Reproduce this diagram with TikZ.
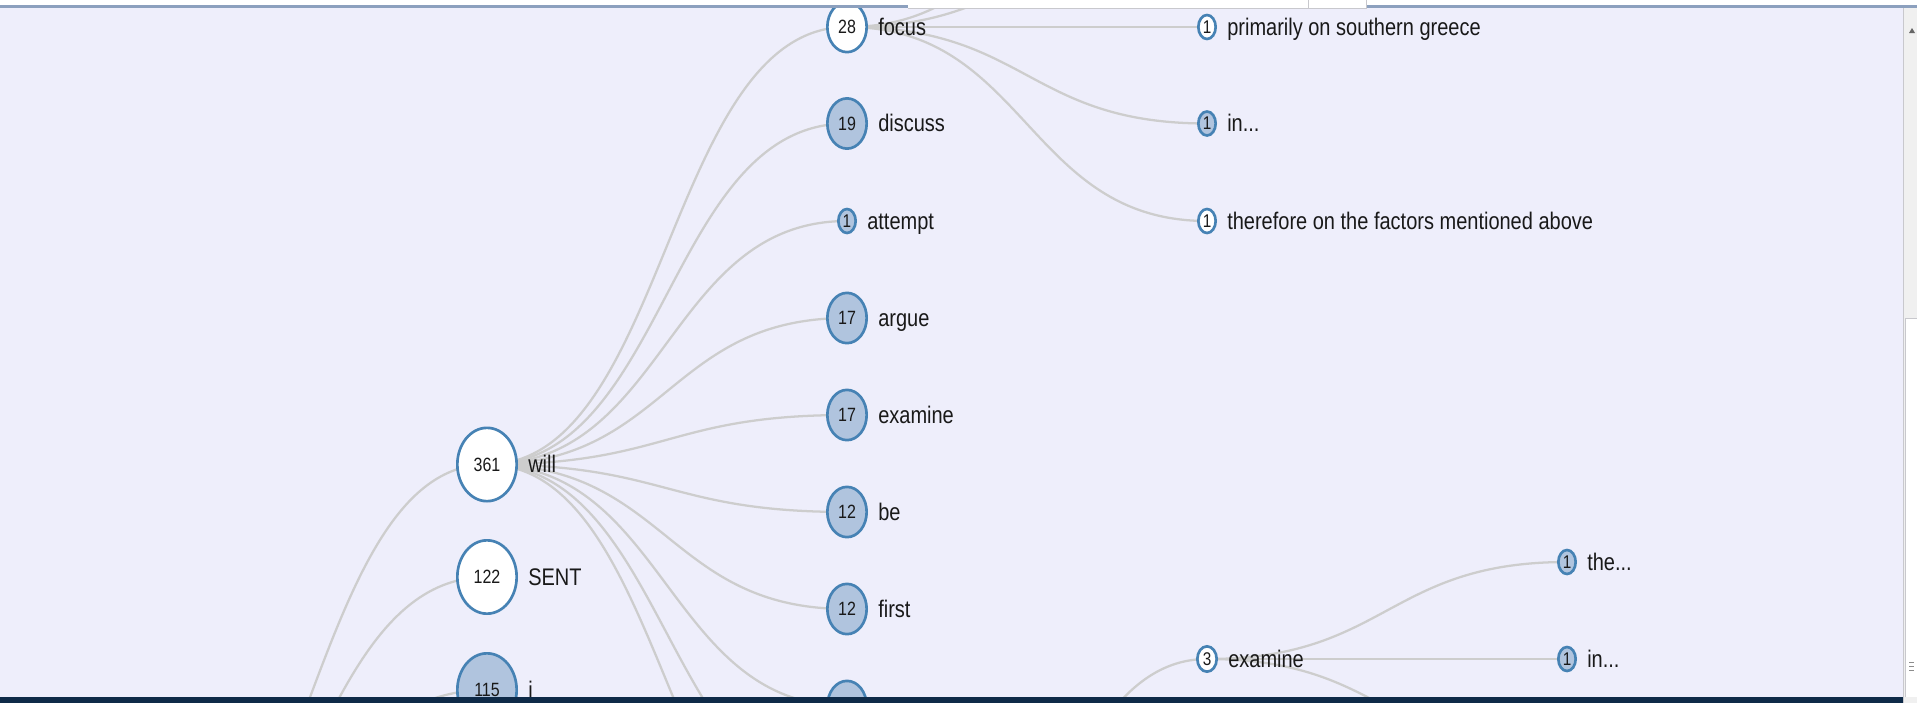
\documentclass[tikz,border=0pt]{standalone}
\usepackage{fontspec}
\setmainfont{Liberation Sans}
\usetikzlibrary{shapes.geometric}
\pgfdeclarelayer{back}
\pgfdeclarelayer{links}
\pgfsetlayers{back,links,main}
\definecolor{panel}{RGB}{238,238,251}
\definecolor{ring}{RGB}{70,130,180}
\definecolor{shade}{RGB}{176,196,222}
\definecolor{wire}{RGB}{205,205,205}
\definecolor{navy}{RGB}{14,42,72}
\definecolor{rim}{RGB}{140,160,190}
\definecolor{gutter}{RGB}{240,240,240}
\definecolor{seam}{RGB}{200,200,205}
\newcommand{\tall}[1]{\scalebox{1}[1.2]{#1}}
\tikzset{
  bub/.style={ellipse, draw=ring, line width=2pt, inner sep=0pt, text=black!90,
    font=\fontsize{12}{12}\selectfont},
  big/.style={bub, minimum width=44.5pt, minimum height=55pt},
  mid/.style={bub, minimum width=29.5pt, minimum height=37.7pt},
  tiny/.style={bub, minimum width=13pt, minimum height=18pt, font=\fontsize{11.5}{11.5}\selectfont},
  small/.style={bub, minimum width=14.5pt, minimum height=19pt, font=\fontsize{11.5}{11.5}\selectfont},
  leaf/.style={fill=white},
  fold/.style={fill=shade},
  word/.style={anchor=base west, inner sep=0pt, text=black!90, font=\fontsize{15}{18}\selectfont},
  link/.style={draw=wire, line width=1.7pt},
}
\begin{document}
\begin{tikzpicture}[x=0.75pt,y=0.75pt,yscale=-1,xscale=1]
\useasboundingbox (0,0) rectangle (1917,703);
\begin{pgfonlayer}{back}
\fill[panel] (0,0) rectangle (1917,703);
\end{pgfonlayer}

% Hidden ends
\coordinate (root) at (127,946);
\coordinate (will9) at (847,803);
\coordinate (will10) at (847,900);
\coordinate (focusA) at (1207,-166);
\coordinate (focusB) at (1207,-70);
\coordinate (exparent) at (847,1094);
\coordinate (exthird) at (1567,756);

% Bubbles, column 1
\node[big,leaf] (will) at (487,464.5) {\tall{361}};
\node[big,leaf] (sent) at (487,577) {\tall{122}};
\node[big,fold] (i) at (487,690) {\tall{115}};
% Bubbles, column 2
\node[mid,leaf] (focus) at (847,27) {\tall{28}};
\node[mid,fold] (discuss) at (847,123.5) {\tall{19}};
\node[tiny,fold] (attempt) at (847,221) {\tall{1}};
\node[mid,fold] (argue) at (847,318) {\tall{17}};
\node[mid,fold] (examine) at (847,415) {\tall{17}};
\node[mid,fold] (be) at (847,512) {\tall{12}};
\node[mid,fold] (first) at (847,609) {\tall{12}};
\node[mid,fold] (will8) at (847,706) {};
% Bubbles, column 3
\node[tiny,leaf] (primarily) at (1207,27) {\tall{1}};
\node[tiny,fold] (focusin) at (1207,123.5) {\tall{1}};
\node[tiny,leaf] (therefore) at (1207,221) {\tall{1}};
\node[small,leaf] (examthree) at (1207,659) {\tall{3}};
% Bubbles, column 4
\node[tiny,fold] (the) at (1567,562) {\tall{1}};
\node[tiny,fold] (examin) at (1567,659) {\tall{1}};

% Text Node
\node[word] (will-t) at ([xshift=7.5pt,yshift=6.3pt]will.east) {\tall{will}};
\node[word] (sent-t) at ([xshift=7.5pt,yshift=6.3pt]sent.east) {\tall{SENT}};
\node[word] (i-t) at ([xshift=7.5pt,yshift=6.3pt]i.east) {\tall{i}};
\node[word] (focus-t) at ([xshift=7.5pt,yshift=6.3pt]focus.east) {\tall{focus}};
\node[word] (discuss-t) at ([xshift=7.5pt,yshift=6.3pt]discuss.east) {\tall{discuss}};
\node[word] (attempt-t) at ([xshift=7.5pt,yshift=6.3pt]attempt.east) {\tall{attempt}};
\node[word] (argue-t) at ([xshift=7.5pt,yshift=6.3pt]argue.east) {\tall{argue}};
\node[word] (examine-t) at ([xshift=7.5pt,yshift=6.3pt]examine.east) {\tall{examine}};
\node[word] (be-t) at ([xshift=7.5pt,yshift=6.3pt]be.east) {\tall{be}};
\node[word] (first-t) at ([xshift=7.5pt,yshift=6.3pt]first.east) {\tall{first}};
\node[word] (primarily-t) at ([xshift=7.5pt,yshift=6.3pt]primarily.east) {\tall{primarily on southern greece}};
\node[word] (focusin-t) at ([xshift=7.5pt,yshift=6.3pt]focusin.east) {\tall{in...}};
\node[word] (therefore-t) at ([xshift=7.5pt,yshift=6.3pt]therefore.east) {\tall{therefore on the factors mentioned above}};
\node[word] (examthree-t) at ([xshift=7.5pt,yshift=6.3pt]examthree.east) {\tall{examine}};
\node[word] (the-t) at ([xshift=7.5pt,yshift=6.3pt]the.east) {\tall{the...}};
\node[word] (examin-t) at ([xshift=7.5pt,yshift=6.3pt]examin.east) {\tall{in...}};

% Links
\begin{pgfonlayer}{links}
\draw[link] (root) .. controls +(180,0) and +(-180,0) .. (will.center);
\draw[link] (root) .. controls +(180,0) and +(-180,0) .. (sent.center);
\draw[link] (root) .. controls +(180,0) and +(-180,0) .. (i.center);
\draw[link] (will.center) .. controls +(180,0) and +(-180,0) .. (focus.center);
\draw[link] (will.center) .. controls +(180,0) and +(-180,0) .. (discuss.center);
\draw[link] (will.center) .. controls +(180,0) and +(-180,0) .. (attempt.center);
\draw[link] (will.center) .. controls +(180,0) and +(-180,0) .. (argue.center);
\draw[link] (will.center) .. controls +(180,0) and +(-180,0) .. (examine.center);
\draw[link] (will.center) .. controls +(180,0) and +(-180,0) .. (be.center);
\draw[link] (will.center) .. controls +(180,0) and +(-180,0) .. (first.center);
\draw[link] (will.center) .. controls +(180,0) and +(-180,0) .. (will8.center);
\draw[link] (will.center) .. controls +(180,0) and +(-180,0) .. (will9);
\draw[link] (will.center) .. controls +(180,0) and +(-180,0) .. (will10);
\draw[link] (focus.center) .. controls +(180,0) and +(-180,0) .. (focusA);
\draw[link] (focus.center) .. controls +(180,0) and +(-180,0) .. (focusB);
\draw[link] (focus.center) .. controls +(180,0) and +(-180,0) .. (primarily.center);
\draw[link] (focus.center) .. controls +(180,0) and +(-180,0) .. (focusin.center);
\draw[link] (focus.center) .. controls +(180,0) and +(-180,0) .. (therefore.center);
\draw[link] (exparent) .. controls +(180,0) and +(-180,0) .. (examthree.center);
\draw[link] (examthree.center) .. controls +(180,0) and +(-180,0) .. (the.center);
\draw[link] (examthree.center) .. controls +(180,0) and +(-180,0) .. (examin.center);
\draw[link] (examthree.center) .. controls +(180,0) and +(-180,0) .. (exthird);
\end{pgfonlayer}

% Window frame
\fill[white] (0,0) rectangle (1917,8);
\fill[rim] (0,5) rectangle (908,8);
\fill[rim] (1366,5) rectangle (1917,8);
\draw[seam, line width=0.75pt] (908,8.5) -- (1366,8.5);
\draw[seam, line width=0.75pt] (1308,0) -- (1308,8.5);
\draw[seam, line width=0.75pt] (1366,0) -- (1366,8.5);
\fill[gutter] (1903,8) rectangle (1917,703);
\draw[seam, line width=0.75pt] (1903,8) -- (1903,703);
\fill[white] (1905,318) rectangle (1917,697);
\draw[seam, line width=0.75pt] (1917,318) -- (1905,318) -- (1905,697);
\fill[black!60] (1909,33) -- (1915,33) -- (1912,28) -- cycle;
\draw[black!45, line width=0.75pt] (1909,662) -- (1914,662) (1909,666) -- (1914,666) (1909,670) -- (1914,670);
\fill[navy] (0,697) rectangle (1903,703);
\end{tikzpicture}
\end{document}
